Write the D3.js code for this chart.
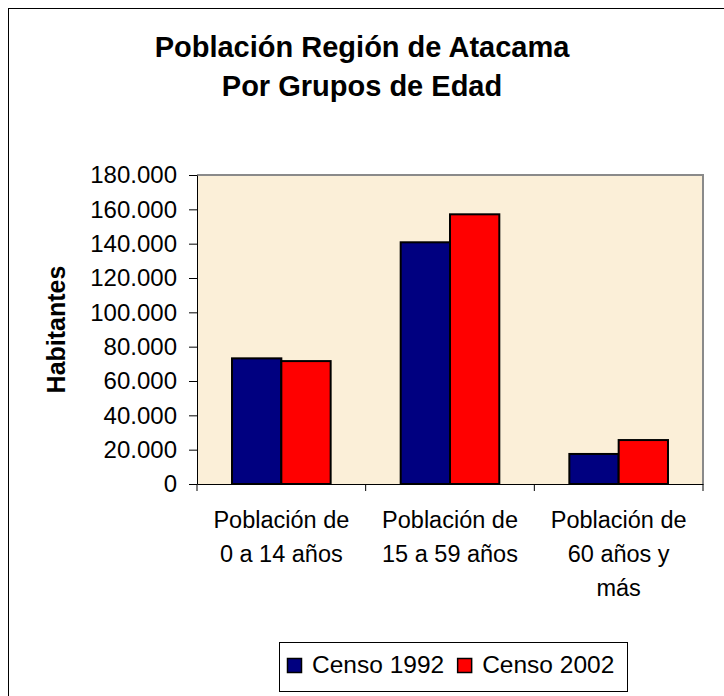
<!DOCTYPE html>
<html>
<head>
<meta charset="utf-8">
<script src="https://cdn.jsdelivr.net/npm/d3@7"></script>
<style>
  body { margin: 0; background: #fff; }
  svg { display: block; font-family: Arial, "Liberation Sans", sans-serif; }
</style>
</head>
<body>
<svg id="viz" width="724" height="696"></svg>
<script>
var categories = [
  ["Población de", "0 a 14 años"],
  ["Población de", "15 a 59 años"],
  ["Población de", "60 años y", "más"],
];
var seriesNames = ["Censo 1992", "Censo 2002"];
var censo1992 = [73200, 140800, 17500];
var censo2002 = [71600, 157100, 25600];
var yTicks = [0, 20000, 40000, 60000, 80000, 100000, 120000, 140000, 160000, 180000];
var colors = ["#000080", "#ff0000"];

var svg = d3.select("#viz");
var margin = { top: 175, left: 197 };
var width = 506;
var height = 309;

var locale = d3.formatLocale({ decimal: ",", thousands: ".", grouping: [3], currency: ["", ""] });
var fmt = locale.format(",d");

// outer chart frame (only top/left edges fall inside the picture)
svg.append("rect")
  .attr("x", 8.5).attr("y", 8.5)
  .attr("width", 730).attr("height", 700)
  .attr("fill", "none").attr("stroke", "#000").attr("stroke-width", 1);

// title
var title = svg.append("text")
  .attr("text-anchor", "middle")
  .style("font-weight", "bold")
  .style("font-size", "29px");
title.append("tspan").attr("x", 362).attr("y", 57).text("Población Región de Atacama");
title.append("tspan").attr("x", 362).attr("y", 96).text("Por Grupos de Edad");

var data = categories.map(function (c, i) {
  return { key: i, label: c, values: [censo1992[i], censo2002[i]] };
});

var x = d3.scaleBand().domain(d3.range(categories.length)).range([0, width]).padding(0);
var xInner = d3.scaleBand().domain(d3.range(seriesNames.length)).range([0, x.bandwidth()])
  .paddingInner(0).paddingOuter(0.71);
var y = d3.scaleLinear().domain([0, 180000]).range([height, 0]);

var chart = svg.append("g")
  .attr("transform", "translate(" + margin.left + "," + margin.top + ")");

// plot area
chart.append("rect")
  .attr("width", width).attr("height", height)
  .attr("fill", "#fbefd8");
chart.append("path")
  .attr("d", "M0,0H" + width + "V" + height)
  .attr("fill", "none").attr("stroke", "#8a8a8a").attr("stroke-width", 2);

// bars
chart.selectAll(".grp")
  .data(data)
  .enter()
  .append("g")
  .attr("transform", function (d) { return "translate(" + x(d.key) + ",0)"; })
  .selectAll("rect")
  .data(function (d) { return d.values; })
  .enter()
  .append("rect")
  .attr("x", function (d, i) { return xInner(i); })
  .attr("y", function (d) { return y(d); })
  .attr("width", xInner.bandwidth())
  .attr("height", function (d) { return height - y(d); })
  .attr("fill", function (d, i) { return colors[i]; })
  .attr("stroke", "#000")
  .attr("stroke-width", 2);

// y axis
var yAxis = chart.append("g")
  .call(d3.axisLeft(y).tickValues(yTicks).tickFormat(fmt).tickSize(8).tickSizeOuter(0).tickPadding(12));
yAxis.select(".domain").attr("stroke", "#000");
yAxis.selectAll("text").style("font-size", "24px").attr("fill", "#000");

// x axis: line, boundary ticks and multi-line labels
var xAxis = chart.append("g")
  .attr("transform", "translate(0," + height + ")")
  .call(d3.axisBottom(x).tickSize(0).tickFormat(""));
xAxis.select(".domain").attr("stroke", "#000");
var bounds = x.domain().map(function (d) { return x(d); }).concat([width]);
xAxis.selectAll(".bound")
  .data(bounds)
  .enter()
  .append("line")
  .attr("x1", function (d) { return d; })
  .attr("x2", function (d) { return d; })
  .attr("y1", 0).attr("y2", 7)
  .attr("stroke", "#000");
xAxis.selectAll(".tick text").remove();
xAxis.selectAll(".tick")
  .append("text")
  .attr("fill", "#000")
  .attr("text-anchor", "middle")
  .style("font-size", "23.5px")
  .each(function (d) {
    var t = d3.select(this);
    categories[d].forEach(function (line, j) {
      t.append("tspan").attr("x", 0).attr("y", 44 + j * 34).text(line);
    });
  });

// y axis title
svg.append("text")
  .attr("transform", "translate(65," + (margin.top + height / 2) + ") rotate(-90)")
  .attr("text-anchor", "middle")
  .style("font-weight", "bold")
  .style("font-size", "25px")
  .text("Habitantes");

// legend
var legend = svg.append("g");
legend.append("rect")
  .attr("x", 279.5).attr("y", 642.5)
  .attr("width", 348).attr("height", 49)
  .attr("fill", "#fff").attr("stroke", "#000").attr("stroke-width", 1);
var lx = 287;
seriesNames.forEach(function (name, i) {
  legend.append("rect")
    .attr("x", lx + 0.5).attr("y", 658.5)
    .attr("width", 14).attr("height", 14)
    .attr("fill", colors[i]).attr("stroke", "#000").attr("stroke-width", 1.5);
  var t = legend.append("text")
    .attr("x", lx + 25).attr("y", 673)
    .style("font-size", "24.5px")
    .text(name);
  lx = lx + 25 + t.node().getComputedTextLength() + 13;
});
</script>
</body>
</html>
